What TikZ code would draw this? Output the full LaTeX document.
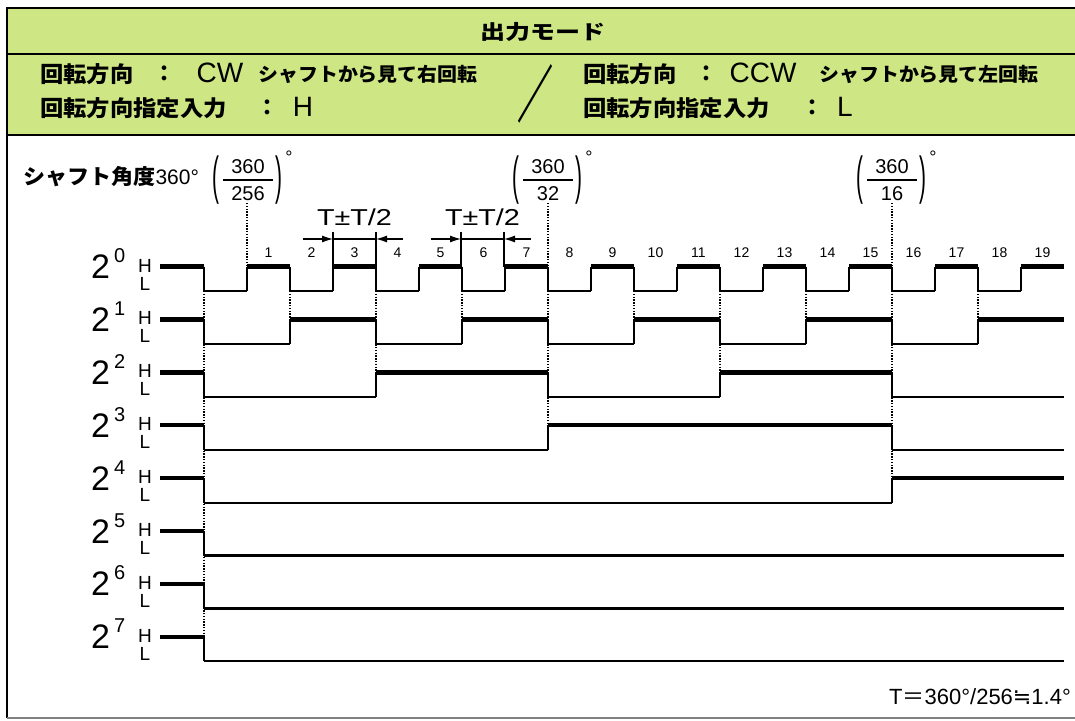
\documentclass[tikz,border=0pt]{standalone}
\usepackage{fontspec}
\usepackage{graphicx}
\setmainfont{Liberation Sans}
\newfontfamily\jp{Noto Sans CJK JP}
\newfontfamily\dvs{DejaVu Sans}
\usetikzlibrary{arrows.meta}
\definecolor{hdrgreen}{RGB}{206,231,132}
\newcommand{\fs}[1]{\fontsize{#1}{#1}\selectfont}
\begin{document}
\begin{tikzpicture}[x=1pt,y=-1pt,
  hi/.style={line width=4.5pt},
  lo/.style={line width=2.2pt},
  edgeln/.style={line width=2.2pt},
  dotln/.style={line width=1.4pt,dash pattern=on 1.4pt off 1.4pt},
  tickln/.style={line width=1.6pt},
  arw/.style={line width=1.2pt,-{Latex[length=11pt,width=7pt]}},
  jpbig/.style={font=\jp\bfseries\fs{22},inner sep=0pt},
  jpsmall/.style={font=\jp\bfseries\fs{19},inner sep=0pt},
  latbig/.style={font=\fs{28},inner sep=0pt},
  hl/.style={font=\fs{19},inner sep=0pt},
  seglbl/.style={font=\fs{14},inner sep=0pt},
  numlbl/.style={font=\fs{20},inner sep=0pt},
  parlbl/.style={font=\fs{52},inner sep=0pt},
  deglbl/.style={font=\fs{18},inner sep=0pt},
  tlbl/.style={font=\fs{23},inner sep=0pt}]
\useasboundingbox (0,0) rectangle (1075,720);
\fill[white] (0,0) rectangle (1075,720);
% header
\fill[hdrgreen] (7,8) rectangle (1075,135);
\draw[line width=2.5pt] (1075,8) -- (7,8) -- (7,718);
\draw[line width=2.5pt] (7,54) -- (1075,54);
\draw[line width=2.5pt] (7,135) -- (1075,135);
\draw[line width=1.2pt,gray] (7,718) -- (1075,718);
\node[font=\jp\bfseries\fs{20},inner sep=0pt] (title) at (543,32) {\scalebox{1.25}[1]{出力モード}};
% left block
\node[jpbig,anchor=west] (l1a) at (40,74) {\scalebox{1.06}[1]{回転方向}};
\node[jpbig] (l1c) at (164,74) {：};
\node[latbig] (l1d) at (220,73) {CW};
\node[jpsmall,anchor=west] (l1e) at (258,74) {\scalebox{1.05}[1]{シャフトから見て右回転}};
\node[jpbig,anchor=west] (l2a) at (40,108) {\scalebox{1.06}[1]{回転方向指定入力}};
\node[jpbig] (l2c) at (267,108) {：};
\node[latbig] (l2d) at (303,107) {H};
\node[font=\jp\bfseries\fs{58},inner sep=0pt] (slash) at (535,94) {\scalebox{0.62}[1.07]{／}};
% right block
\node[jpbig,anchor=west] (r1a) at (583,74) {\scalebox{1.06}[1]{回転方向}};
\node[jpbig] (r1c) at (706,74) {：};
\node[latbig] (r1d) at (763,73) {CCW};
\node[jpsmall,anchor=west] (r1e) at (819,74) {\scalebox{1.05}[1]{シャフトから見て左回転}};
\node[jpbig,anchor=west] (r2a) at (583,108) {\scalebox{1.06}[1]{回転方向指定入力}};
\node[jpbig] (r2c) at (812,108) {：};
\node[latbig] (r2d) at (845,107) {L};
% shaft angle label and fractions
\node[anchor=west,inner sep=0pt] (shaft) at (23,177) {{\jp\bfseries\fs{21}\scalebox{1.05}[1]{シャフト角度}}{\fs{21}360°}};
\foreach \nm/\cx/\den in {fa/248/256,fb/548/32,fc/892/16}{
  \node[numlbl] (\nm n) at (\cx,167) {360};
  \node[numlbl] (\nm d) at (\cx,194) {\den};
  \coordinate (\nm bl) at (\cx-25,180);
  \coordinate (\nm br) at (\cx+25,180);
  \draw[line width=1.4pt] (\nm bl) -- (\nm br);
  \node[parlbl] (\nm pl) at (\cx-32,180) {\scalebox{0.4}[1]{(}};
  \node[parlbl] (\nm pr) at (\cx+31,180) {\scalebox{0.4}[1]{)}};
  \node[deglbl] (\nm deg) at (\cx+41,157) {°};
}
% dotted guide lines (upper)
\foreach \j in {1,8,16}{
  \draw[dotln] ({204+43*\j},203) -- ({204+43*\j},266.5);
}
% dotted guide lines (between rows)
\foreach \j/\m in {0/7,2/1,4/2,6/1,8/3,10/1,12/2,14/1,16/4,18/1}{
  \draw[dotln] ({204+43*\j},291) -- ({204+43*\j},{266.5+52.9*\m});
}
% waveforms
\foreach \n in {0,...,7}{
  \pgfmathsetmacro\yh{266.5+52.9*\n}
  \pgfmathsetmacro\yl{\yh+24.5}
  \node[anchor=base west,inner sep=0pt] (rl\n) at (91,\yh+12) {\fs{34}2\hspace{4pt}\raisebox{16pt}{\fs{20}\n}};
  \node[hl] (h\n) at (145,\yh-1) {H};
  \node[hl] (l\n) at (145,\yh+17) {L};
  \draw[hi] (160,\yh) -- (204,\yh);
  \foreach \k in {0,...,19}{
    \pgfmathtruncatemacro\bitv{mod(floor(\k/(2^\n)),2)}
    \pgfmathtruncatemacro\pbit{\k==0 ? 1 : mod(floor((\k-1)/(2^\n)),2)}
    \pgfmathsetmacro\xa{204+43*\k}
    \pgfmathsetmacro\xb{\xa+43}
    \ifnum\bitv=1 \draw[hi] (\xa,\yh) -- (\xb,\yh); \else \draw[lo] (\xa,\yl) -- (\xb,\yl); \fi
    \ifnum\bitv=\pbit\else \draw[edgeln] (\xa,\yh) -- (\xa,\yl); \fi
  }
}
% segment numbers
\foreach \k in {1,...,19}{
  \node[seglbl] (s\k) at ({204+43*\k+21.5},253) {\k};
}
% T +- T/2 annotations
\foreach \nm/\xl/\xr in {ta/333/376,tb/461/504}{
  \coordinate (\nm s) at (\xl-30,239);
  \coordinate (\nm a) at (\xl,239);
  \coordinate (\nm b) at (\xr,239);
  \coordinate (\nm e) at (\xr+27,239);
  \coordinate (\nm lt) at (\xl,232);
  \coordinate (\nm lb) at (\xl,266.5);
  \coordinate (\nm rt) at (\xr,232);
  \coordinate (\nm rb) at (\xr,266.5);
  \draw[tickln] (\nm lt) -- (\nm lb);
  \draw[tickln] (\nm rt) -- (\nm rb);
  \draw[line width=1.2pt] (\nm a) -- (\nm b);
  \draw[arw] (\nm s) -- (\nm a);
  \draw[arw] (\nm e) -- (\nm b);
  \node[tlbl] (\nm lbl) at ({(\xl+\xr)/2},217) {\scalebox{1.25}[1]{T±T/2}};
}
% footnote
\node[anchor=east,inner sep=0pt] (tnote) at (1071,697) {\fs{22}T{\jp ＝}360°/256{\dvs ≒}1.4°};
\end{tikzpicture}
\end{document}
